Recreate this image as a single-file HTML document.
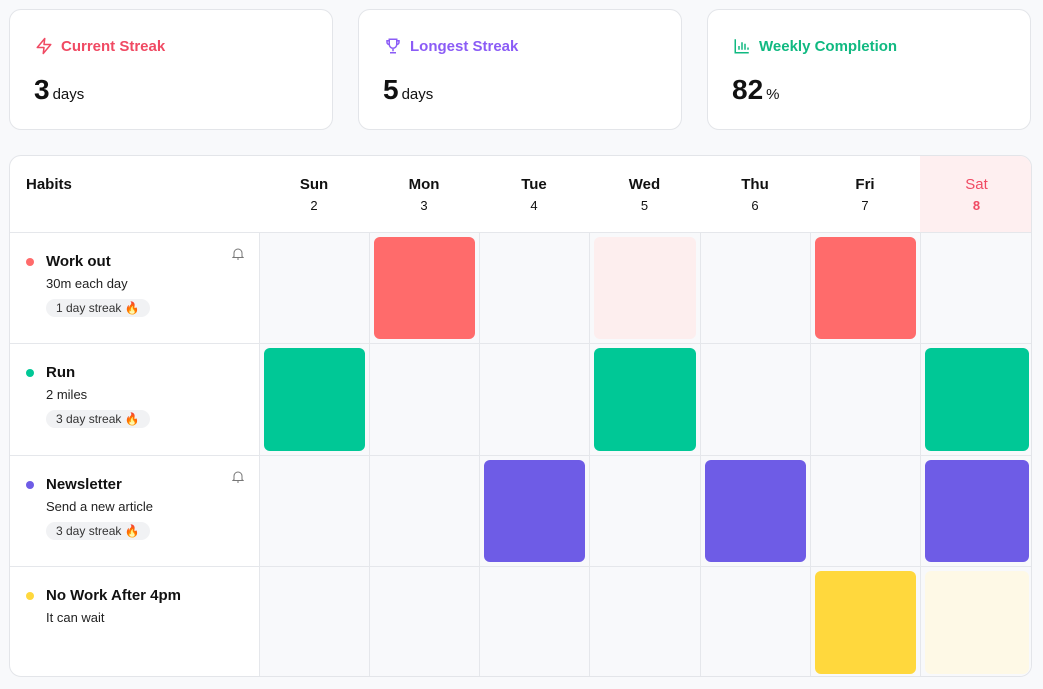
<!DOCTYPE html>
<html><head><style>
*{box-sizing:border-box;margin:0;padding:0}
body{width:1043px;height:689px;background:#f8f9fb;font-family:"Liberation Sans","DejaVu Sans",sans-serif;position:relative;overflow:hidden}
.card{position:absolute;top:9px;height:121px;width:324px;background:#fff;border:1px solid #e3e5e9;border-radius:12px}
.card .t{position:absolute;left:25px;top:27px;font-size:15px;font-weight:bold;display:flex;align-items:center;gap:8px}
.card .v{position:absolute;left:24px;top:64px;font-size:28px;font-weight:bold;color:#111}
.card .v span{font-size:15px;font-weight:normal;margin-left:3px}
.tbl{position:absolute;left:9px;top:155px;width:1023px;height:522px;background:#fff;border:1px solid #e3e5e9;border-radius:12px;overflow:hidden}
.hd{position:absolute;top:0;height:76px;text-align:center;font-size:15px;font-weight:bold;color:#111;padding-top:20px}
.hd div{font-size:13px;font-weight:normal;margin-top:5px}
.cell{position:absolute;background:#f8f9fb;border-left:1px solid #e5e7eb;border-top:1px solid #e5e7eb}
.sq{position:absolute;left:4px;top:4px;right:4px;bottom:4px;border-radius:6px}
.hab{position:absolute;left:0;width:249px;border-top:1px solid #e5e7eb}
.hab .dot{position:absolute;left:16px;top:25px;width:8px;height:8px;border-radius:50%}
.hab .n{position:absolute;left:36px;top:20px;font-size:15px;font-weight:bold;color:#111}
.hab .d{position:absolute;left:36px;top:43px;font-size:13px;color:#222}
.hab .b{position:absolute;left:36px;top:66px;font-size:12px;color:#333;background:#f1f2f4;border-radius:10px;padding:2px 10px}
.bell{position:absolute;left:222px;top:14px;width:12px;height:13px}
</style></head><body>
<div class="card" style="left:9px"><div class="t" style="color:#f04a63"><svg width="18" height="18" viewBox="0 0 24 24" fill="none" stroke="#f04a63" stroke-width="2" stroke-linejoin="round"><path d="M13 2L3 14h9l-1 8 10-12h-9l1-8z"/></svg>Current Streak</div><div class="v">3<span>days</span></div></div>
<div class="card" style="left:358px"><div class="t" style="color:#8b5cf6"><svg width="18" height="18" viewBox="0 0 24 24" fill="none" stroke="#8b5cf6" stroke-width="2"><path d="M7 3h10v7a5 5 0 0 1-10 0z M7 5H4v2a3 3 0 0 0 3 3 M17 5h3v2a3 3 0 0 1-3 3 M12 15v4 M8 21h8"/></svg>Longest Streak</div><div class="v">5<span>days</span></div></div>
<div class="card" style="left:707px"><div class="t" style="color:#10b981"><svg width="18" height="18" viewBox="0 0 24 24" fill="none" stroke="#10b981" stroke-width="2"><path d="M3 3v18h18 M8 17v-5 M12 17V7 M16 17v-8 M20 17v-3"/></svg>Weekly Completion</div><div class="v">82<span>%</span></div></div>
<div class="tbl">
<div class="hd" style="left:0;width:249px;text-align:left;padding-left:16px">Habits</div>
<div class="hd" style="left:249px;width:110px">Sun<div>2</div></div>
<div class="hd" style="left:359px;width:110px">Mon<div>3</div></div>
<div class="hd" style="left:469px;width:110px">Tue<div>4</div></div>
<div class="hd" style="left:579px;width:111px">Wed<div>5</div></div>
<div class="hd" style="left:690px;width:110px">Thu<div>6</div></div>
<div class="hd" style="left:800px;width:110px">Fri<div>7</div></div>
<div class="hd" style="left:910px;width:113px;background:#feeff0;color:#f04a63;font-weight:normal">Sat<div style="font-weight:bold">8</div></div>

<div class="hab" style="top:76px;height:111px"><span class="dot" style="background:#ff6b6b"></span><div class="n">Work out</div><div class="d">30m each day</div><div class="b">1 day streak 🔥</div><svg class="bell" viewBox="0 0 12 13" fill="none" stroke="#777" stroke-width="1"><path d="M2 9.5V6a4 4 0 0 1 8 0v3.5l1 1H1z M5 12h2"/></svg></div>
<div class="hab" style="top:187px;height:112px"><span class="dot" style="background:#00c896"></span><div class="n">Run</div><div class="d">2 miles</div><div class="b">3 day streak 🔥</div></div>
<div class="hab" style="top:299px;height:111px"><span class="dot" style="background:#6e5ce6"></span><div class="n">Newsletter</div><div class="d">Send a new article</div><div class="b">3 day streak 🔥</div><svg class="bell" viewBox="0 0 12 13" fill="none" stroke="#777" stroke-width="1"><path d="M2 9.5V6a4 4 0 0 1 8 0v3.5l1 1H1z M5 12h2"/></svg></div>
<div class="hab" style="top:410px;height:112px"><span class="dot" style="background:#ffd83d"></span><div class="n">No Work After 4pm</div><div class="d">It can wait</div></div>
<div id="g"></div>
</div>
<script>
var xs=[249,359,469,579,690,800,910,1023],ys=[76,187,299,410,522];
var c={r:"#ff6b6b",rl:"#fdeeee",g:"#00c896",p:"#6e5ce6",y:"#ffd83d",yl:"#fef9e6"};
var d=[[0,"r",0,"rl",0,"r",0],["g",0,0,"g",0,0,"g"],[0,0,"p",0,"p",0,"p"],[0,0,0,0,0,"y","yl"]];
var h="";
for(var r=0;r<4;r++)for(var i=0;i<7;i++){h+='<div class="cell" style="left:'+xs[i]+'px;top:'+ys[r]+'px;width:'+(xs[i+1]-xs[i])+'px;height:'+(ys[r+1]-ys[r])+'px">'+(d[r][i]?'<div class="sq" style="background:'+c[d[r][i]]+'"></div>':'')+'</div>';}
document.getElementById("g").innerHTML=h;
</script>
</body></html>
